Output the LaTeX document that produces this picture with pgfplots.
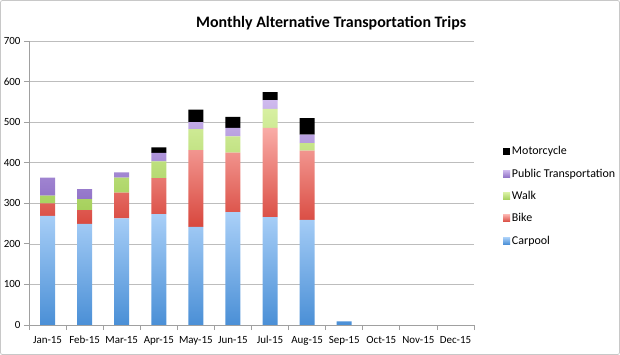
\documentclass[border=0pt]{standalone}
\usepackage{fontspec}
\setmainfont{Carlito}
\usepackage{pgfplots}
\pgfplotsset{compat=1.18}
\definecolor{cpT}{HTML}{AAD0F8}\definecolor{cpB}{HTML}{4A8FD6}
\definecolor{bkT}{HTML}{F9ACA7}\definecolor{bkB}{HTML}{D8473D}
\definecolor{wkT}{HTML}{D8F0A2}\definecolor{wkB}{HTML}{A5D05C}
\definecolor{ptT}{HTML}{CFBAEE}\definecolor{ptB}{HTML}{9274C8}
\definecolor{frame}{HTML}{C8C8C8}
\definecolor{axisgray}{HTML}{A0A0A0}
\definecolor{gridgray}{HTML}{BDBDBD}
\begin{document}
\begin{tikzpicture}
\path[use as bounding box] (0,0) rectangle (620bp,355bp);
\draw[frame, line width=0.8bp, rounded corners=2bp] (0.5bp,0.5bp) rectangle (619.5bp,354.5bp);
\begin{axis}[
  at={(29bp,30bp)}, anchor=south west,
  scale only axis, width=445bp, height=284bp,
  ybar stacked, bar width=15bp,
  xmin=-0.5, xmax=11.5, ymin=0, ymax=700,
  xtick={-0.5,0.5,...,11.5}, x tick label as interval,
  xticklabels={Jan-15,Feb-15,Mar-15,Apr-15,May-15,Jun-15,Jul-15,Aug-15,Sep-15,Oct-15,Nov-15,Dec-15},
  ytick={0,100,...,700},
  ymajorgrids, grid style={gridgray, line width=0.7bp},
  axis lines*=left, axis line style={axisgray, line width=0.8bp},
  tick align=outside, major tick length=5bp, tick style={axisgray, line width=0.8bp},
  tick label style={font=\fontsize{11}{13}\selectfont},
  xticklabel style={text height=8bp, text depth=2bp, yshift=-2bp},
  /pgf/number format/assume math mode=true,
  title={Monthly Alternative Transportation Trips},
  title style={font=\fontsize{16}{20}\selectfont\bfseries, at={(0.679,1.028)}, anchor=base, yshift=0pt},
  legend style={at={(1.058,0.454)}, anchor=west, draw=none, fill=none,
    font=\fontsize{12}{14}\selectfont, row sep=8.6bp},
  legend image code/.code={\fill[#1] (0bp,-3.5bp) rectangle (7bp,3.5bp);},
  legend cell align=left, reverse legend,
]
\addplot[draw=none, top color=cpT, bottom color=cpB] coordinates
 {(0,269) (1,249) (2,263) (3,273) (4,242) (5,278) (6,266) (7,259) (8,9)};
\addlegendentry{Carpool}
\addplot[draw=none, top color=bkT, bottom color=bkB] coordinates
 {(0,31) (1,34) (2,63) (3,89) (4,189) (5,147) (6,220) (7,171) (8,0)};
\addlegendentry{Bike}
\addplot[draw=none, top color=wkT, bottom color=wkB] coordinates
 {(0,19) (1,27) (2,37) (3,41) (4,52) (5,40) (6,47) (7,18) (8,0)};
\addlegendentry{Walk}
\addplot[draw=none, top color=ptT, bottom color=ptB] coordinates
 {(0,44) (1,25) (2,13) (3,21) (4,17) (5,21) (6,21) (7,21) (8,0)};
\addlegendentry{Public Transportation}
\addplot[draw=none, fill=black] coordinates
 {(0,0) (1,0) (2,0) (3,14) (4,31) (5,27) (6,20) (7,41) (8,0)};
\addlegendentry{Motorcycle}
\end{axis}
\end{tikzpicture}
\end{document}
